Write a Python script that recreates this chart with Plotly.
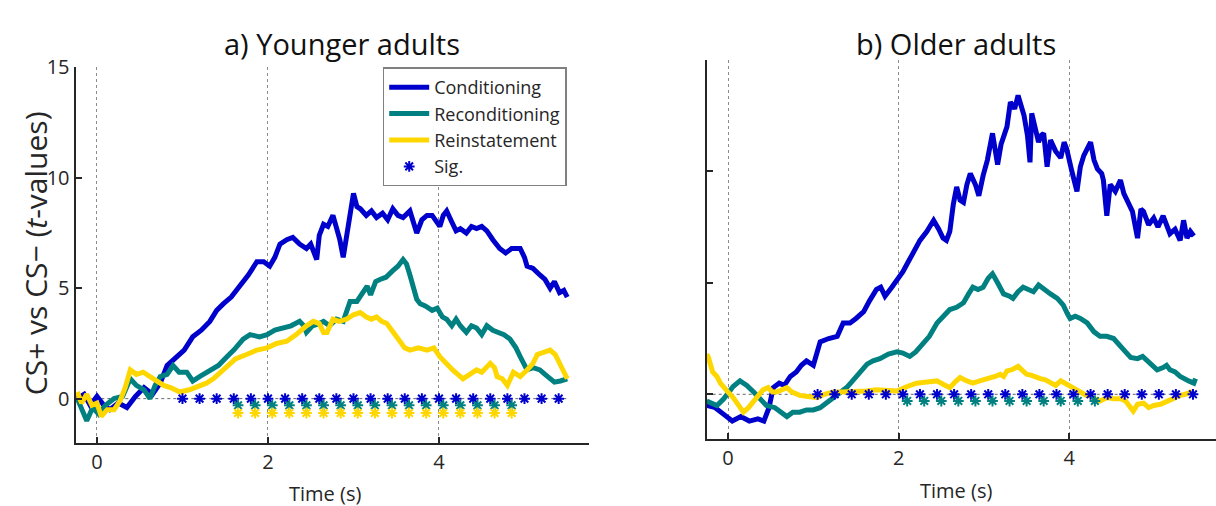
import plotly.graph_objects as go

# ---------------- data: a) Younger adults ----------------
young_cond_t = [-0.23, -0.15, -0.08, 0.0, 0.08, 0.15, 0.25, 0.35, 0.45, 0.55, 0.65, 0.74, 0.82, 0.93, 1.02,
                1.12, 1.22, 1.32, 1.4, 1.48, 1.57, 1.67, 1.77, 1.87, 1.95, 2.02, 2.08, 2.14, 2.22, 2.29, 2.37,
                2.45, 2.5, 2.57, 2.6, 2.65, 2.7, 2.76, 2.8, 2.84, 2.88, 2.94, 3.0, 3.04, 3.08, 3.15, 3.21,
                3.27, 3.34, 3.4, 3.46, 3.52, 3.58, 3.66, 3.7, 3.74, 3.8, 3.86, 3.92, 3.97, 4.01, 4.05, 4.09,
                4.15, 4.2, 4.25, 4.32, 4.38, 4.44, 4.5, 4.56, 4.63, 4.71, 4.78, 4.85, 4.95, 5.0, 5.03, 5.1,
                5.18, 5.24, 5.3, 5.35, 5.41, 5.46, 5.5]
young_cond_v = [0.0, 0.2, -0.3, 0.1, -0.3, -0.5, -0.2, -0.4, 0.1, 0.5, 0.2, 0.7, 1.5, 1.9, 2.2,
                2.8, 3.1, 3.5, 4.0, 4.3, 4.6, 5.1, 5.6, 6.2, 6.2, 6.0, 6.4, 7.0, 7.2, 7.3, 7.0,
                6.8, 7.0, 6.3, 7.4, 7.9, 7.8, 8.3, 7.8, 7.2, 6.4, 8.0, 9.3, 8.7, 8.6, 8.3, 8.5,
                8.2, 8.4, 8.1, 8.6, 8.3, 8.2, 8.5, 8.0, 7.5, 8.1, 8.3, 8.3, 8.0, 7.8, 8.3, 8.5,
                8.0, 7.6, 7.7, 7.5, 7.8, 7.7, 7.8, 7.6, 7.2, 6.8, 6.6, 6.8, 6.8, 6.4, 6.0, 5.9,
                5.6, 5.4, 5.0, 5.3, 4.8, 4.9, 4.6]

young_recond_t = [-0.23, -0.18, -0.12, -0.05, 0.02, 0.1, 0.2, 0.3, 0.39, 0.46, 0.55, 0.62, 0.68, 0.74, 0.82,
                  0.89, 0.96, 1.05, 1.12, 1.2, 1.32, 1.42, 1.52, 1.6, 1.71, 1.79, 1.9, 1.99, 2.08, 2.18,
                  2.27, 2.37, 2.42, 2.45, 2.52, 2.6, 2.65, 2.72, 2.8, 2.88, 2.92, 2.96, 3.04, 3.1, 3.16,
                  3.2, 3.26, 3.31, 3.38, 3.46, 3.52, 3.58, 3.62, 3.66, 3.7, 3.74, 3.78, 3.84, 3.92, 3.98,
                  4.04, 4.09, 4.15, 4.2, 4.25, 4.32, 4.38, 4.44, 4.5, 4.56, 4.63, 4.7, 4.76, 4.83, 4.9,
                  4.95, 5.0, 5.03, 5.1, 5.18, 5.24, 5.3, 5.35, 5.42, 5.5]
young_recond_v = [0.0, -0.5, -1.0, -0.4, -0.7, -0.3, 0.0, 0.1, 0.9, 0.6, 0.4, 0.0, 0.6, 1.0, 1.1,
                  1.5, 1.2, 1.2, 0.8, 1.0, 1.3, 1.5, 1.9, 2.2, 2.7, 2.9, 2.8, 2.9, 3.1, 3.2,
                  3.3, 3.5, 3.3, 3.0, 3.3, 3.4, 3.5, 3.3, 3.6, 3.5, 4.0, 4.4, 4.4, 4.8, 5.1,
                  4.7, 5.3, 5.4, 5.5, 5.8, 6.0, 6.3, 6.1, 5.6, 5.1, 4.5, 4.3, 4.2, 4.0, 4.1,
                  3.7, 3.6, 3.3, 3.6, 3.3, 3.0, 3.3, 3.2, 2.9, 3.3, 3.1, 3.0, 2.9, 2.7, 2.3,
                  1.9, 1.5, 1.3, 1.4, 1.3, 1.1, 0.9, 0.75, 0.8, 0.9]

young_rein_t = [-0.23, -0.18, -0.12, -0.06, 0.0, 0.05, 0.12, 0.2, 0.27, 0.33, 0.39, 0.46, 0.54, 0.62, 0.7,
                0.78, 0.86, 0.97, 1.08, 1.2, 1.28, 1.36, 1.44, 1.52, 1.62, 1.75, 1.87, 1.99, 2.1, 2.22,
                2.33, 2.45, 2.53, 2.6, 2.65, 2.69, 2.76, 2.83, 2.92, 3.0, 3.08, 3.15, 3.21, 3.27, 3.33,
                3.39, 3.46, 3.55, 3.6, 3.66, 3.76, 3.86, 3.94, 4.01, 4.1, 4.16, 4.22, 4.28, 4.36, 4.44,
                4.5, 4.6, 4.65, 4.68, 4.74, 4.8, 4.87, 4.95, 5.03, 5.1, 5.15, 5.22, 5.3, 5.36, 5.41,
                5.46, 5.5]
young_rein_v = [0.3, -0.2, 0.2, -0.3, -0.2, -0.8, -0.5, -0.5, -0.1, 0.5, 1.3, 1.1, 1.2, 1.0, 0.8,
                0.6, 0.5, 0.3, 0.4, 0.6, 0.7, 0.9, 1.2, 1.5, 1.8, 2.0, 2.2, 2.3, 2.5, 2.6,
                2.9, 3.3, 3.5, 3.4, 3.0, 3.0, 3.6, 3.5, 3.6, 3.8, 3.9, 3.7, 3.6, 3.7, 3.5,
                3.4, 3.0, 2.5, 2.3, 2.2, 2.3, 2.2, 2.3, 1.9, 1.5, 1.3, 1.1, 0.9, 1.1, 1.3,
                1.2, 1.6, 1.4, 1.0, 0.9, 0.6, 1.2, 1.0, 1.3, 1.6, 2.0, 2.1, 2.2, 2.0, 1.6,
                1.2, 0.9]

young_sig_cond_t = [1.0, 1.2, 1.4, 1.6, 1.8, 2.0, 2.2, 2.4, 2.6, 2.8, 3.0, 3.2, 3.4, 3.6, 3.8, 4.0,
                    4.2, 4.4, 4.6, 4.8, 5.0, 5.2, 5.4]
young_sig_recond_t = [1.65, 1.85, 2.05, 2.25, 2.45, 2.65, 2.85, 3.05, 3.25, 3.45, 3.65, 3.85, 4.05,
                      4.25, 4.45, 4.65, 4.85]
young_sig_rein_t = [1.65, 1.85, 2.05, 2.25, 2.45, 2.65, 2.85, 3.05, 3.25, 3.45, 3.65, 3.85, 4.05,
                    4.25, 4.45, 4.65, 4.85]

# ---------------- data: b) Older adults ----------------
old_cond_t = [-0.25, -0.15, -0.05, 0.05, 0.15, 0.25, 0.35, 0.42, 0.48, 0.53, 0.6, 0.66, 0.73, 0.8, 0.86,
              0.92, 1.0, 1.08, 1.18, 1.28, 1.35, 1.43, 1.5, 1.59, 1.66, 1.74, 1.79, 1.84, 1.92, 1.98,
              2.05, 2.1, 2.18, 2.25, 2.33, 2.41, 2.47, 2.52, 2.56, 2.6, 2.64, 2.68, 2.72, 2.76, 2.8,
              2.84, 2.9, 2.94, 2.99, 3.04, 3.1, 3.13, 3.16, 3.2, 3.23, 3.27, 3.31, 3.36, 3.4, 3.44,
              3.47, 3.51, 3.54, 3.56, 3.6, 3.64, 3.67, 3.7, 3.74, 3.78, 3.84, 3.9, 3.94, 3.97, 4.03,
              4.09, 4.13, 4.17, 4.21, 4.25, 4.29, 4.33, 4.38, 4.4, 4.44, 4.48, 4.54, 4.6, 4.64, 4.68,
              4.74, 4.8, 4.84, 4.87, 4.93, 4.99, 5.04, 5.1, 5.14, 5.18, 5.24, 5.3, 5.34, 5.38, 5.42,
              5.46]
old_cond_v = [-0.5, -0.6, -0.9, -1.2, -1.0, -1.2, -1.1, -1.2, -0.6, 0.3, 0.5, 0.4, 0.8, 1.0, 1.3,
              1.5, 1.3, 2.35, 2.5, 2.6, 3.2, 3.2, 3.4, 3.7, 4.2, 4.7, 4.8, 4.4, 4.8, 5.1,
              5.5, 5.85, 6.4, 6.9, 7.3, 7.8, 7.4, 7.0, 6.9, 7.3, 8.5, 9.3, 8.7, 8.6, 9.4,
              9.9, 9.4, 8.9, 9.8, 10.5, 11.7, 10.8, 10.3, 11.2, 11.5, 12.0, 13.1, 12.8, 13.4, 12.8,
              12.5, 11.6, 10.4, 12.6, 11.9, 11.3, 11.6, 11.7, 10.2, 11.4, 10.9, 10.6, 11.3, 11.0, 10.0,
              9.1, 10.2, 10.7, 11.0, 11.3, 10.5, 10.1, 9.9, 9.6, 8.0, 9.4, 9.1, 9.6, 9.0, 8.7,
              8.2, 7.0, 8.3, 8.2, 7.6, 7.9, 7.5, 8.0, 7.6, 7.2, 7.4, 6.9, 7.8, 7.0, 7.3,
              7.1]

old_recond_t = [-0.25, -0.18, -0.13, -0.05, 0.02, 0.06, 0.14, 0.22, 0.3, 0.38, 0.45, 0.55, 0.62, 0.69, 0.76,
                0.84, 0.92, 1.0, 1.08, 1.15, 1.23, 1.3, 1.39, 1.46, 1.51, 1.57, 1.63, 1.7, 1.78, 1.88,
                1.98, 2.05, 2.13, 2.2, 2.25, 2.29, 2.36, 2.45, 2.52, 2.6, 2.68, 2.76, 2.82, 2.87, 2.93,
                2.99, 3.05, 3.1, 3.16, 3.23, 3.3, 3.34, 3.4, 3.46, 3.52, 3.58, 3.64, 3.7, 3.78, 3.86,
                3.93, 3.98, 4.01, 4.07, 4.13, 4.21, 4.29, 4.36, 4.44, 4.52, 4.6, 4.66, 4.72, 4.8, 4.86,
                4.91, 4.97, 5.03, 5.1, 5.14, 5.18, 5.24, 5.3, 5.34, 5.4, 5.46, 5.48]
old_recond_v = [-0.3, -0.4, -0.5, -0.2, 0.1, 0.35, 0.6, 0.4, 0.1, -0.2, -0.5, -0.6, -0.8, -1.0, -0.8,
                -0.8, -0.7, -0.7, -0.6, -0.4, -0.2, 0.0, 0.3, 0.6, 0.8, 1.1, 1.35, 1.5, 1.6, 1.8,
                1.9, 1.85, 1.7, 1.9, 2.1, 2.3, 2.6, 3.2, 3.5, 3.8, 3.9, 4.1, 4.5, 4.8, 4.7,
                4.8, 5.2, 5.4, 5.0, 4.5, 4.4, 4.3, 4.6, 4.8, 4.7, 4.6, 4.9, 4.7, 4.5, 4.3,
                4.0, 3.6, 3.4, 3.5, 3.4, 3.2, 2.8, 2.6, 2.6, 2.5, 2.2, 1.9, 1.65, 1.6, 1.7,
                1.5, 1.3, 1.1, 1.2, 1.3, 1.1, 1.0, 0.8, 0.7, 0.6, 0.5, 0.7]

old_rein_t = [-0.25, -0.23, -0.18, -0.13, -0.09, -0.05, 0.0, 0.06, 0.12, 0.18, 0.24, 0.3, 0.36, 0.41, 0.47,
              0.52, 0.57, 0.63, 0.69, 0.75, 0.84, 0.94, 1.04, 1.13, 1.23, 1.33, 1.43, 1.52, 1.62, 1.74,
              1.86, 1.98, 2.1, 2.21, 2.33, 2.45, 2.52, 2.6, 2.66, 2.72, 2.8, 2.87, 2.95, 3.01, 3.07,
              3.13, 3.19, 3.23, 3.27, 3.33, 3.4, 3.45, 3.5, 3.56, 3.61, 3.66, 3.72, 3.78, 3.84, 3.9,
              3.95, 4.01, 4.08, 4.14, 4.2, 4.25, 4.3, 4.36, 4.44, 4.52, 4.6, 4.66, 4.7, 4.75, 4.8,
              4.87, 4.93, 4.99, 5.07, 5.15, 5.22, 5.3, 5.36, 5.42, 5.46]
old_rein_v = [1.8, 1.65, 1.0, 0.8, 0.5, 0.3, 0.1, -0.15, -0.5, -0.8, -0.6, -0.3, 0.0, 0.2, 0.3,
              0.1, 0.1, 0.2, 0.3, 0.1, -0.05, -0.1, -0.15, 0.0, 0.1, 0.1, 0.1, 0.15, 0.15, 0.2,
              0.2, 0.15, 0.35, 0.5, 0.55, 0.6, 0.45, 0.3, 0.55, 0.75, 0.6, 0.5, 0.6, 0.65, 0.75,
              0.8, 0.9, 0.8, 1.05, 1.1, 1.25, 1.1, 0.9, 0.85, 0.75, 0.7, 0.65, 0.5, 0.4, 0.6,
              0.5, 0.35, 0.2, 0.1, -0.05, -0.05, -0.2, -0.3, -0.15, -0.2, -0.2, -0.3, -0.5, -0.75, -0.45,
              -0.4, -0.6, -0.5, -0.45, -0.3, -0.2, -0.05, 0.0, 0.1, 0.1]

old_sig_cond_t = [1.05, 1.25, 1.45, 1.65, 1.85, 2.05, 2.25, 2.45, 2.65, 2.85, 3.05, 3.25, 3.45, 3.65,
                  3.85, 4.05, 4.25, 4.45, 4.65, 4.85, 5.05, 5.25, 5.45]
old_sig_recond_t = [2.1, 2.3, 2.5, 2.7, 2.9, 3.1, 3.3, 3.5, 3.7, 3.9, 4.1, 4.3]

sig_level = {"Conditioning": 0.0, "Reconditioning": -0.3, "Reinstatement": -0.65}

names = ["Conditioning", "Reconditioning", "Reinstatement"]
colors = {"Conditioning": "#0000CD", "Reconditioning": "#008080", "Reinstatement": "#FFD700"}

panels = [
    dict(x="x", y="y",
         lines={"Conditioning": (young_cond_t, young_cond_v),
                "Reconditioning": (young_recond_t, young_recond_v),
                "Reinstatement": (young_rein_t, young_rein_v)},
         sig={"Conditioning": young_sig_cond_t,
              "Reconditioning": young_sig_recond_t,
              "Reinstatement": young_sig_rein_t},
         legend=True),
    dict(x="x2", y="y2",
         lines={"Conditioning": (old_cond_t, old_cond_v),
                "Reconditioning": (old_recond_t, old_recond_v),
                "Reinstatement": (old_rein_t, old_rein_v)},
         sig={"Conditioning": old_sig_cond_t,
              "Reconditioning": old_sig_recond_t},
         legend=False),
]

FONT = "Open Sans"
TXT = "#262626"
fig = go.Figure()

for p in panels:
    # dotted zero reference line
    all_t = [t for n in names for t in p["lines"][n][0]]
    fig.add_trace(go.Scatter(x=[min(all_t), max(all_t)], y=[0, 0], mode="lines",
                             line=dict(color="#666666", width=1, dash="dot"),
                             xaxis=p["x"], yaxis=p["y"], showlegend=False, hoverinfo="skip"))
    for i, n in enumerate(names):
        t, v = p["lines"][n]
        fig.add_trace(go.Scatter(x=t, y=v, mode="lines", name=n,
                                 line=dict(color=colors[n], width=5),
                                 xaxis=p["x"], yaxis=p["y"],
                                 showlegend=p["legend"], legendgroup=n, legendrank=i + 1))
    first = True
    for n in names:
        if n not in p["sig"]:
            continue
        ts = p["sig"][n]
        fig.add_trace(go.Scatter(x=ts, y=[sig_level[n]] * len(ts), mode="markers", name="Sig.",
                                 marker=dict(symbol="asterisk-open", size=9, color=colors[n],
                                             line=dict(color=colors[n], width=2)),
                                 xaxis=p["x"], yaxis=p["y"],
                                 showlegend=(p["legend"] and first), legendgroup="sig", legendrank=4))
        first = False

axis_common = dict(showline=True, linewidth=2.2, linecolor=TXT, ticks="inside", ticklen=6,
                   tickwidth=2, tickcolor=TXT, zeroline=False, mirror=False,
                   tickfont=dict(family=FONT, size=20, color=TXT))

grid = dict(showgrid=True, gridcolor="#8c8c8c", griddash="dot", gridwidth=1)

fig.update_layout(
    width=1216, height=506,
    margin=dict(l=0, r=0, t=0, b=0),
    paper_bgcolor="white", plot_bgcolor="white",
    xaxis=dict(domain=[75.6 / 1216, 588.6 / 1216], range=[-0.25, 5.75], tickvals=[0, 2, 4],
               anchor="y", **grid, **axis_common),
    yaxis=dict(domain=[1 - 441 / 506, 1 - 55 / 506], range=[-2, 15], tickvals=[0, 5, 10, 15],
               showgrid=False, anchor="x", **axis_common),
    xaxis2=dict(domain=[706.7 / 1216, 1.0], range=[-0.25, 5.72], tickvals=[0, 2, 4],
                anchor="y2", **grid, **axis_common),
    yaxis2=dict(domain=[1 - 437 / 506, 1 - 47 / 506], range=[-2, 15], tickvals=[0, 5, 10, 15],
                showticklabels=False, showgrid=False, anchor="x2", **axis_common),
    legend=dict(x=382.7 / 1216, y=1 - 55 / 506, xanchor="left", yanchor="top",
                bgcolor="white", bordercolor="#808080", borderwidth=1.5,
                font=dict(family=FONT, size=18, color=TXT),
                traceorder="grouped", tracegroupgap=0, itemwidth=40),
    showlegend=True,
    annotations=[
        dict(text="a) Younger adults", x=342 / 1216, y=1 - 30 / 506, xref="paper", yref="paper",
             showarrow=False, xanchor="center", yanchor="middle",
             font=dict(family=FONT, size=29, color="#111111")),
        dict(text="b) Older adults", x=956 / 1216, y=1 - 30 / 506, xref="paper", yref="paper",
             showarrow=False, xanchor="center", yanchor="middle",
             font=dict(family=FONT, size=29, color="#111111")),
        dict(text="CS+ vs CS\u2212 (<i>t</i>-values)", x=35 / 1216, y=1 - 246 / 506,
             xref="paper", yref="paper", showarrow=False, textangle=-90,
             xanchor="center", yanchor="middle",
             font=dict(family=FONT, size=30, color=TXT)),
        dict(text="Time (s)", x=325 / 1216, y=1 - 493 / 506, xref="paper", yref="paper",
             showarrow=False, xanchor="center", yanchor="middle",
             font=dict(family=FONT, size=20, color=TXT)),
        dict(text="Time (s)", x=956 / 1216, y=1 - 490 / 506, xref="paper", yref="paper",
             showarrow=False, xanchor="center", yanchor="middle",
             font=dict(family=FONT, size=20, color=TXT)),
    ],
)

fig.write_html("out.html")
